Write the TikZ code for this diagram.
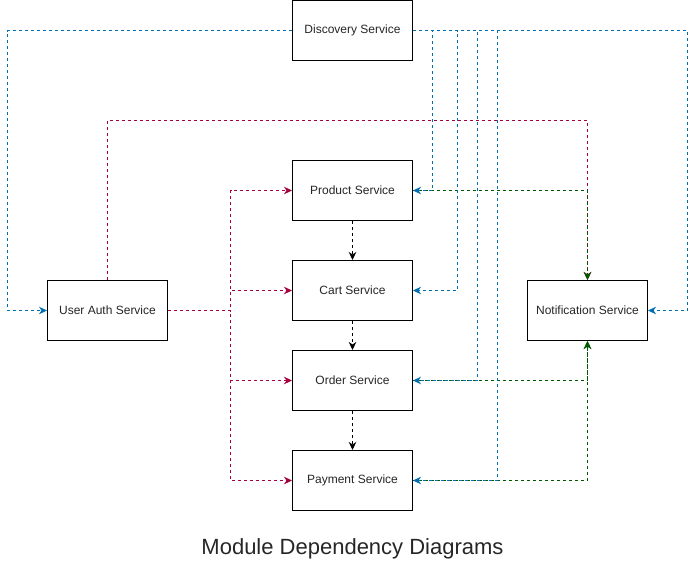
\documentclass[tikz,border=0pt]{standalone}
\usepackage{fontspec}
\setmainfont{Liberation Sans}
\usetikzlibrary{arrows.meta,calc}
\definecolor{dblue}{HTML}{006EAF}
\definecolor{dred}{HTML}{A50040}
\definecolor{dgreen}{HTML}{005700}
\definecolor{txt}{HTML}{262626}
\tikzset{
  svc/.style={draw=black, line width=1pt, fill=white, minimum width=120pt, minimum height=60pt,
    inner sep=0pt, text=txt, font=\fontsize{12}{14}\selectfont},
  link/.style={line width=1pt, dash pattern=on 3pt off 3pt,
    -{Stealth[length=8pt,width=7.5pt,inset=2.5pt]}},
  bluelink/.style={link, draw=dblue, -{Stealth[length=8pt,width=7.5pt,inset=2.5pt,fill=dblue]}},
  redlink/.style={link, draw=dred, -{Stealth[length=8pt,width=7.5pt,inset=2.5pt,fill=dred]}},
  greenlink/.style={link, draw=dgreen, -{Stealth[length=8pt,width=7.5pt,inset=2.5pt,fill=dgreen]}},
  blacklink/.style={link, draw=black},
}
\begin{document}
\begin{tikzpicture}[x=1pt,y=-1pt]
\useasboundingbox (0,0) rectangle (696,571);
% lanes
\coordinate (bL) at (7.5,0);
\coordinate (b1) at (432.5,0);
\coordinate (b2) at (457.5,0);
\coordinate (b3) at (477.5,0);
\coordinate (b4) at (497.5,0);
\coordinate (b5) at (687.5,0);
\coordinate (rX) at (230.5,0);
\coordinate (rT) at (0,120.5);
\node[svc] (disc) at (352.5,30.5) {Discovery Service};
\node[svc] (prod) at (352.5,190.5) {Product Service};
\node[svc] (cart) at (352.5,290.5) {Cart Service};
\node[svc] (ord) at (352.5,380.5) {Order Service};
\node[svc] (pay) at (352.5,480.5) {Payment Service};
\node[svc] (auth) at (107.5,310.5) {User Auth Service};
\node[svc] (notif) at (587.5,310.5) {Notification Service};
% red: user auth
\draw[redlink] (auth.north) |- (notif.north |- rT) -- (notif.north);
\draw[redlink] (auth.east) -| (rX |- prod.west) -- (prod.west);
\draw[redlink] (auth.east) -| (rX |- cart.west) -- (cart.west);
\draw[redlink] (auth.east) -| (rX |- ord.west) -- (ord.west);
\draw[redlink] (auth.east) -| (rX |- pay.west) -- (pay.west);
% green: to notification
\draw[greenlink] (prod.east) -| (notif.north);
\draw[greenlink] (ord.east) -| (notif.south);
\draw[greenlink] (pay.east) -| (notif.south);
% blue: discovery
\draw[bluelink] (disc.west) -- (disc.west -| bL) |- (auth.west);
\draw[bluelink] (disc.east) -| (b1 |- prod.east) -- (prod.east);
\draw[bluelink] (disc.east) -| (b2 |- cart.east) -- (cart.east);
\draw[bluelink] (disc.east) -| (b3 |- ord.east) -- (ord.east);
\draw[bluelink] (disc.east) -| (b4 |- pay.east) -- (pay.east);
\draw[bluelink] (disc.east) -| (b5 |- notif.east) -- (notif.east);
% black chain
\draw[blacklink] (prod.south) -- (cart.north);
\draw[blacklink] (cart.south) -- (ord.north);
\draw[blacklink] (ord.south) -- (pay.north);
% title
\node[text=txt, font=\fontsize{22}{26}\selectfont] (title) at (352.5,549) {Module Dependency Diagrams};
\end{tikzpicture}
\end{document}
